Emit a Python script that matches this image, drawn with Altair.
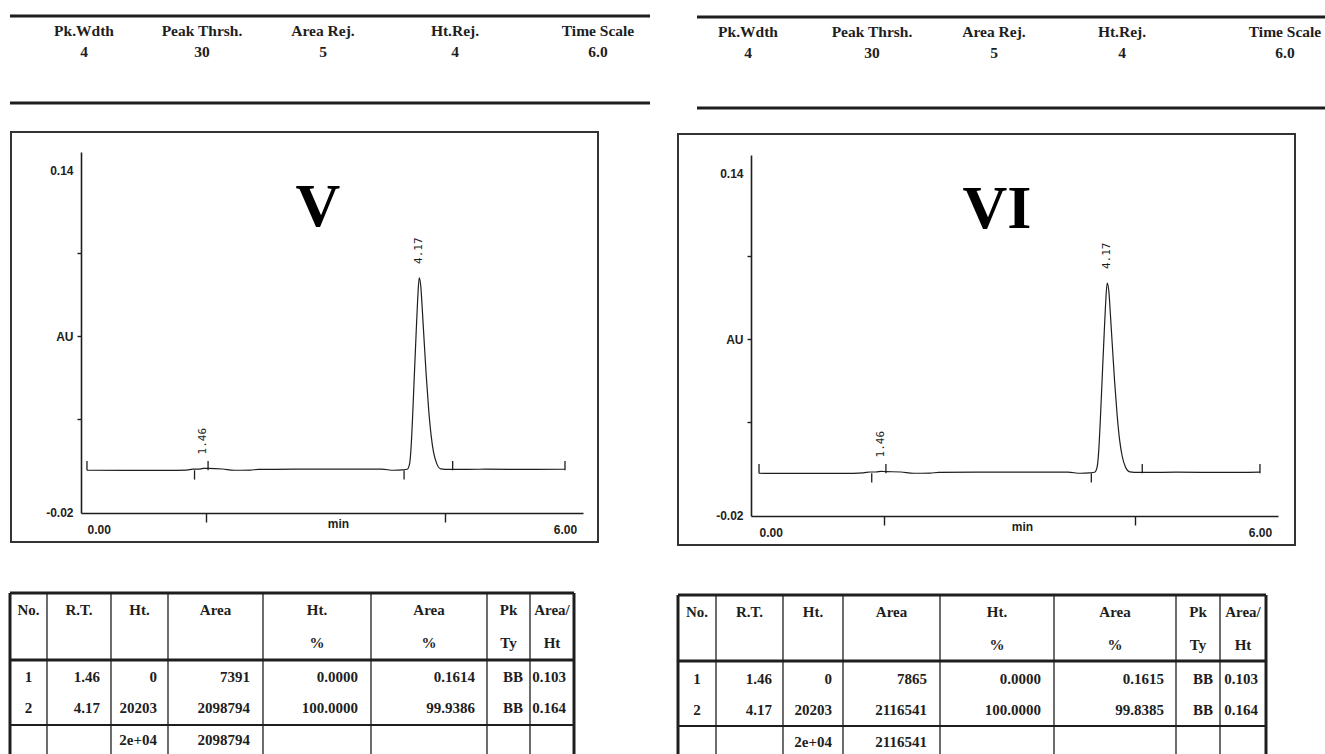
import altair as alt
import pandas as pd

# ---------------- data ----------------
# integration parameters printed above each chromatogram
param_names = ["Pk.Wdth", "Peak Thrsh.", "Area Rej.", "Ht.Rej.", "Time Scale"]
param_values = ["4", "30", "5", "4", "6.0"]

# chromatogram V: retention time (min) and absorbance (AU)
trace_v_time = [0.00, 0.50, 1.00, 1.25, 1.33, 1.40, 1.46, 1.52, 1.70, 1.85, 2.05, 2.15,
                2.60, 3.20, 3.70, 3.85, 3.96, 4.02, 4.05, 4.07, 4.09, 4.11, 4.13, 4.15,
                4.17, 4.19, 4.21, 4.23, 4.26, 4.29, 4.32, 4.35, 4.39, 4.44, 4.55, 5.00,
                5.60, 6.00]
trace_v_au = [-0.0047, -0.0048, -0.0048, -0.0046, -0.0042, -0.0042, -0.0038, -0.0038,
              -0.0041, -0.0047, -0.0046, -0.0043, -0.0042, -0.0042, -0.0042, -0.0047,
              -0.0045, -0.0042, -0.0015, 0.0075, 0.0235, 0.0420, 0.0600, 0.0770,
              0.0880, 0.0840, 0.0720, 0.0590, 0.0400, 0.0240, 0.0120, 0.0040,
              -0.0015, -0.0040, -0.0043, -0.0042, -0.0043, -0.0042]

# chromatogram VI
trace_vi_time = [0.00, 0.50, 1.00, 1.25, 1.33, 1.40, 1.46, 1.52, 1.70, 1.85, 2.05, 2.15,
                 2.60, 3.20, 3.70, 3.85, 3.96, 4.02, 4.05, 4.07, 4.09, 4.11, 4.13, 4.15,
                 4.17, 4.19, 4.21, 4.23, 4.26, 4.29, 4.32, 4.35, 4.39, 4.44, 4.55, 5.00,
                 5.60, 6.00]
trace_vi_au = [-0.0047, -0.0048, -0.0048, -0.0045, -0.0041, -0.0041, -0.0038, -0.0039,
               -0.0041, -0.0047, -0.0046, -0.0043, -0.0042, -0.0042, -0.0042, -0.0047,
               -0.0045, -0.0042, -0.0016, 0.0068, 0.0228, 0.0410, 0.0590, 0.0760,
               0.0870, 0.0830, 0.0710, 0.0580, 0.0390, 0.0230, 0.0110, 0.0035,
               -0.0018, -0.0040, -0.0043, -0.0042, -0.0043, -0.0042]

# integration event marks (time, +1 above baseline / -1 below)
event_time = [0.00, 1.35, 1.52, 3.98, 4.59, 6.00]
event_dir = [1, -1, 1, -1, 1, 1]

# detected peaks: retention time and trace level at the apex
peak_rt = [1.46, 4.17]
peak_text = ["1.46", "4.17"]
peak_level_v = [-0.0038, 0.0880]
peak_level_vi = [-0.0038, 0.0870]

# result tables
table_head_1 = ["No.", "R.T.", "Ht.", "Area", "Ht.", "Area", "Pk", "Area/"]
table_head_2 = ["", "", "", "", "%", "%", "Ty", "Ht"]
rows_v = [["1", "1.46", "0", "7391", "0.0000", "0.1614", "BB", "0.103"],
          ["2", "4.17", "20203", "2098794", "100.0000", "99.9386", "BB", "0.164"],
          ["", "", "2e+04", "2098794", "", "", "", ""]]
rows_vi = [["1", "1.46", "0", "7865", "0.0000", "0.1615", "BB", "0.103"],
           ["2", "4.17", "20203", "2116541", "100.0000", "99.8385", "BB", "0.164"],
           ["", "", "2e+04", "2116541", "", "", "", ""]]

# ---------------- page layout (pixels) ----------------
W, H = 1325, 754
INK = "#1e1e1e"
SERIF = "Liberation Serif"
SANS = "Liberation Sans"

panels = {
    "V": dict(
        head=dict(x0=10, x1=650, top=16, bottom=103, label_y=31, value_y=52,
                  cols=[84, 202, 323, 455, 598]),
        box=(11, 132, 598, 542),
        roman=(318, 207),
        xrange=[81, 583], xdomain=[-0.075, 6.226],
        yrange=[513, 152], ydomain=[-0.0253, 0.1487],
        table=dict(cols=[10, 47, 111, 168, 263, 371, 487, 530, 574], top=593,
                   head_sep=660, row_sep=725, line1=610, line2=643,
                   rows=[677, 708, 740]),
        trace=(trace_v_time, trace_v_au), level=peak_level_v, rows=rows_v,
    ),
    "VI": dict(
        head=dict(x0=697, x1=1325, top=17, bottom=108, label_y=32, value_y=53,
                  cols=[748, 872, 994, 1122, 1285]),
        box=(678, 134, 1295, 545),
        roman=(997, 209),
        xrange=[751, 1278], xdomain=[-0.096, 6.216],
        yrange=[516, 155], ydomain=[-0.0253, 0.1487],
        table=dict(cols=[678, 716, 783, 843, 940, 1054, 1176, 1220, 1266], top=595,
                   head_sep=661, row_sep=726, line1=612, line2=645,
                   rows=[679, 710, 742]),
        trace=(trace_vi_time, trace_vi_au), level=peak_level_vi, rows=rows_vi,
    ),
}

right_pad = [None, 11, 11, 13, 13, 12, 7, 8]


def px(field):
    return alt.X(f"{field}:Q", scale=None, axis=None)


def py(field):
    return alt.Y(f"{field}:Q", scale=None, axis=None)


def text_layer(df, **kw):
    return alt.Chart(df).mark_text(**kw).encode(x=px("x"), y=py("y"), text="t:N")


def rule_layer(df):
    return alt.Chart(df).mark_rule(color=INK).encode(
        x=px("x"), x2="x2:Q", y=py("y"), y2="y2:Q",
        strokeWidth=alt.StrokeWidth("w:Q", scale=None, legend=None),
    )


layers = []

for key, p in panels.items():
    hd = p["head"]
    # parameter strip
    layers.append(rule_layer(pd.DataFrame({
        "x": [hd["x0"], hd["x0"]], "x2": [hd["x1"], hd["x1"]],
        "y": [hd["top"], hd["bottom"]], "y2": [hd["top"], hd["bottom"]], "w": [3, 3]})))
    layers.append(text_layer(
        pd.DataFrame({"x": hd["cols"], "y": [hd["label_y"]] * 5, "t": param_names}),
        font=SERIF, fontWeight="bold", fontSize=15.5, color=INK, align="center", baseline="middle"))
    layers.append(text_layer(
        pd.DataFrame({"x": hd["cols"], "y": [hd["value_y"]] * 5, "t": param_values}),
        font=SERIF, fontWeight="bold", fontSize=15.5, color=INK, align="center", baseline="middle"))

    # frame around the chromatogram
    bx0, by0, bx1, by1 = p["box"]
    layers.append(alt.Chart(pd.DataFrame({"x": [bx0], "x2": [bx1], "y": [by0], "y2": [by1]}))
                  .mark_rect(fill=None, stroke="#333333", strokeWidth=2)
                  .encode(x=px("x"), x2="x2:Q", y=py("y"), y2="y2:Q"))
    layers.append(text_layer(
        pd.DataFrame({"x": [p["roman"][0]], "y": [p["roman"][1]], "t": [key]}),
        font=SERIF, fontWeight="bold", fontSize=62, color="#000", align="center", baseline="middle"))

    # result table
    tb = p["table"]
    cols = tb["cols"]
    hlines = pd.DataFrame({"x": [cols[0]] * 3, "x2": [cols[-1]] * 3,
                           "y": [tb["top"], tb["head_sep"], tb["row_sep"]],
                           "y2": [tb["top"], tb["head_sep"], tb["row_sep"]],
                           "w": [3, 3, 2]})
    vlines = pd.DataFrame({"x": cols, "x2": cols, "y": [tb["top"]] * len(cols),
                           "y2": [H] * len(cols),
                           "w": [3] + [1.3] * (len(cols) - 2) + [3]})
    layers.append(rule_layer(pd.concat([hlines, vlines], ignore_index=True)))

    centers = [(a + b) / 2 for a, b in zip(cols[:-1], cols[1:])]
    head_df = pd.DataFrame({
        "x": centers * 2,
        "y": [tb["line1"]] * 8 + [tb["line2"]] * 8,
        "t": table_head_1 + table_head_2})
    layers.append(text_layer(head_df, font=SERIF, fontWeight="bold", fontSize=15,
                             color=INK, align="center", baseline="middle"))

    c_x, c_y, c_t, r_x, r_y, r_t = [], [], [], [], [], []
    for ry, row in zip(tb["rows"], p["rows"]):
        for j, cell in enumerate(row):
            if not cell:
                continue
            if right_pad[j] is None:
                c_x.append(centers[j]); c_y.append(ry); c_t.append(cell)
            else:
                r_x.append(cols[j + 1] - right_pad[j]); r_y.append(ry); r_t.append(cell)
    layers.append(text_layer(pd.DataFrame({"x": c_x, "y": c_y, "t": c_t}),
                             font=SERIF, fontWeight="bold", fontSize=15, color=INK,
                             align="center", baseline="middle"))
    layers.append(text_layer(pd.DataFrame({"x": r_x, "y": r_y, "t": r_t}),
                             font=SERIF, fontWeight="bold", fontSize=15, color=INK,
                             align="right", baseline="middle"))

# ---------------- chromatograms (data scales) ----------------
def chromatogram(p):
    ys0 = p["yrange"][0]
    xs = alt.Scale(domain=p["xdomain"], range=p["xrange"], nice=False, zero=False)
    ys = alt.Scale(domain=p["ydomain"], range=p["yrange"], nice=False, zero=False)
    x_axis = alt.Axis(
        orient="bottom", offset=ys0 - H, values=[0, 1.5, 3.15, 4.5, 6], grid=False,
        title=None, domainColor=INK, domainWidth=1.6, tickColor=INK, tickWidth=1.4,
        tickSize=9,
        tickOpacity={"condition": {"test": "datum.value == 1.5 || datum.value == 4.5", "value": 1}, "value": 0},
        labelExpr="datum.value == 0 ? '0.00' : datum.value == 6 ? '6.00' : (datum.value > 3 && datum.value < 3.3) ? 'min' : ''",
        labelAlign={"condition": {"test": "datum.value == 0", "value": "left"},
                    "value": "center"},
        labelPadding={"condition": {"test": "datum.value > 3 && datum.value < 3.3", "value": -4}, "value": 2},
        labelFont=SANS, labelFontSize=12, labelColor=INK, labelFontWeight="bold",
        labelFlush=False, labelOverlap=False, labelBound=False,
    )
    y_axis = alt.Axis(
        orient="left", offset=-p["xrange"][0], values=[0.14, 0.10, 0.06, 0.02, -0.02],
        grid=False, title=None, domainColor=INK, domainWidth=1.6, tickColor=INK,
        tickWidth=1.4, tickSize=4,
        tickOpacity={"condition": {"test": "datum.value > 0.13 || datum.value < -0.01", "value": 0}, "value": 1},
        labelExpr="datum.value > 0.13 ? '0.14' : abs(datum.value - 0.06) < 0.001 ? 'AU' : datum.value < -0.01 ? '-0.02' : ''",
        labelOffset={"condition": {"test": "datum.value < -0.01", "value": 10}, "value": 0},
        labelPadding=4, labelFont=SANS, labelFontSize=12, labelColor=INK,
        labelFontWeight="bold", labelFlush=False, labelOverlap=False, labelBound=False,
    )
    t, au = p["trace"]
    trace = alt.Chart(pd.DataFrame({"t": t, "au": au})).mark_line(
        color=INK, strokeWidth=1.2, interpolate="monotone"
    ).encode(x=alt.X("t:Q", scale=xs, axis=x_axis), y=alt.Y("au:Q", scale=ys, axis=y_axis))

    base = au[0]
    ev = pd.DataFrame({"t": event_time,
                       "a": [base] * len(event_time),
                       "b": [base + 0.0045 * d for d in event_dir]})
    events = alt.Chart(ev).mark_rule(color=INK, strokeWidth=1.3).encode(
        x=alt.X("t:Q", scale=xs, axis=x_axis), y=alt.Y("a:Q", scale=ys, axis=y_axis), y2="b:Q")

    lab = alt.Chart(pd.DataFrame({"t": peak_rt, "au": p["level"], "s": peak_text})).mark_text(
        angle=270, align="left", baseline="middle", dx=14, font="DejaVu Sans Mono",
        fontSize=11, color=INK
    ).encode(x=alt.X("t:Q", scale=xs, axis=x_axis), y=alt.Y("au:Q", scale=ys, axis=y_axis), text="s:N")
    return alt.layer(trace, events, lab)


for key in ["V", "VI"]:
    layers.append(chromatogram(panels[key]))

chart = alt.layer(*layers).resolve_scale(x="independent", y="independent").properties(
    width=W, height=H, padding=0, autosize=alt.AutoSizeParams(type="none"),
    background="white",
).configure_view(stroke=None)

chart.save("out.html", embed_options={"renderer": "svg", "actions": False})
